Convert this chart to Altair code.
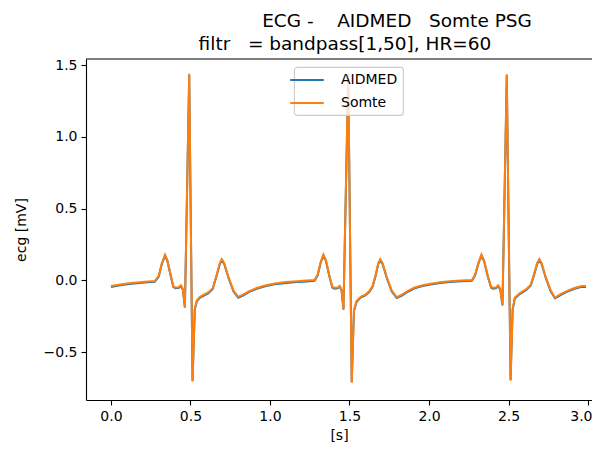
import altair as alt
import pandas as pd

# ---- data ----
time_s = [
    0.000, 0.040, 0.080, 0.130, 0.180, 0.230, 0.275,
    0.300, 0.320, 0.340, 0.355, 0.375, 0.392, 0.405, 0.425, 0.440, 0.452, 0.465, 0.492, 0.513, 0.527, 0.540, 0.560, 0.585, 0.612, 0.640,
    0.665, 0.685, 0.697, 0.712, 0.740, 0.770, 0.800, 0.830, 0.870, 0.920, 0.970, 1.030, 1.100, 1.170, 1.230, 1.280,
    1.300, 1.318, 1.336, 1.352, 1.372, 1.392, 1.405, 1.425, 1.438, 1.450, 1.462, 1.492, 1.514, 1.528, 1.544, 1.570, 1.600, 1.625, 1.645,
    1.665, 1.680, 1.693, 1.708, 1.735, 1.765, 1.797, 1.830, 1.870, 1.910, 1.960, 2.010, 2.070, 2.130, 2.200, 2.270,
    2.290, 2.310, 2.330, 2.346, 2.368, 2.390, 2.403, 2.420, 2.435, 2.448, 2.462, 2.489, 2.513, 2.526, 2.540, 2.570, 2.612, 2.640,
    2.660, 2.680, 2.694, 2.708, 2.735, 2.765, 2.792, 2.830, 2.866, 2.910, 2.960, 2.987,
]

somte_mv = [
    -0.040, -0.032, -0.025, -0.018, -0.013, -0.008, -0.005,
    0.030, 0.120, 0.178, 0.140, 0.040, -0.040, -0.050, -0.048, -0.035, -0.060, -0.185, 1.440, -0.705, -0.200, -0.140, -0.115, -0.100, -0.085, -0.055,
    0.040, 0.120, 0.148, 0.120, 0.020, -0.070, -0.115, -0.100, -0.075, -0.052, -0.036, -0.022, -0.012, -0.006, -0.002, 0.002,
    0.040, 0.125, 0.180, 0.140, 0.040, -0.045, -0.052, -0.050, -0.038, -0.065, -0.200, 1.440, -0.713, -0.210, -0.145, -0.115, -0.100, -0.075, -0.040,
    0.040, 0.115, 0.148, 0.120, 0.020, -0.070, -0.118, -0.100, -0.072, -0.050, -0.034, -0.024, -0.013, -0.006, -0.001, 0.002,
    0.040, 0.120, 0.180, 0.140, 0.040, -0.045, -0.052, -0.050, -0.035, -0.060, -0.170, 1.436, -0.700, -0.200, -0.120, -0.090, -0.062, -0.030,
    0.040, 0.120, 0.148, 0.120, 0.020, -0.070, -0.120, -0.095, -0.075, -0.055, -0.040, -0.040,
]

aidmed_mv = [
    -0.046, -0.038, -0.031, -0.024, -0.019, -0.014, -0.011,
    0.024, 0.114, 0.172, 0.134, 0.034, -0.046, -0.056, -0.054, -0.041, -0.066, -0.190, 1.430, -0.700, -0.206, -0.146, -0.121, -0.106, -0.091, -0.061,
    0.034, 0.114, 0.142, 0.114, 0.014, -0.076, -0.121, -0.106, -0.081, -0.058, -0.042, -0.028, -0.018, -0.012, -0.008, -0.004,
    0.034, 0.119, 0.174, 0.134, 0.034, -0.051, -0.058, -0.056, -0.044, -0.071, -0.205, 1.430, -0.708, -0.216, -0.151, -0.121, -0.106, -0.081, -0.046,
    0.034, 0.109, 0.142, 0.114, 0.014, -0.076, -0.124, -0.106, -0.078, -0.056, -0.040, -0.030, -0.019, -0.012, -0.007, -0.004,
    0.034, 0.114, 0.174, 0.134, 0.034, -0.051, -0.058, -0.056, -0.041, -0.066, -0.175, 1.426, -0.695, -0.206, -0.126, -0.096, -0.068, -0.036,
    0.034, 0.114, 0.142, 0.114, 0.014, -0.076, -0.126, -0.101, -0.081, -0.061, -0.046, -0.046,
]

series_names = ["AIDMED", "Somte"]
series_colors = ["#1f77b4", "#ff7f0e"]
x_ticks = [0.0, 0.5, 1.0, 1.5, 2.0, 2.5, 3.0]
y_ticks = [-0.5, 0.0, 0.5, 1.0, 1.5]
title_lines = ["ECG -    AIDMED   Somte PSG", "filtr   = bandpass[1,50], HR=60"]
x_label = "[s]"
y_label = "ecg [mV]"

# ---- layout ----
W, H = 506, 341
FONT = "DejaVu Sans"

df_a = pd.DataFrame({"t": time_s, "v": aidmed_mv, "series": series_names[0]})
df_s = pd.DataFrame({"t": time_s, "v": somte_mv, "series": series_names[1]})

x_enc = alt.X(
    "t:Q",
    scale=alt.Scale(domain=[-0.157, 3.025], nice=False, zero=False),
    axis=alt.Axis(
        values=x_ticks, format=".1f", title=x_label, titlePadding=5,
        labelFlush=6, labelFlushOffset=4,
    ),
)
y_enc = alt.Y(
    "v:Q",
    scale=alt.Scale(domain=[-0.834, 1.542], nice=False, zero=False),
    axis=alt.Axis(values=y_ticks, format=".1f", title=y_label, titlePadding=15),
)
color_enc = alt.Color(
    "series:N",
    scale=alt.Scale(domain=series_names, range=series_colors),
    legend=alt.Legend(
        title=None,
        orient="none",
        legendX=208,
        legendY=8,
        symbolType="M-2.4,0H2.4",
        symbolSize=196,
        symbolStrokeWidth=2,
        labelFont=FONT,
        labelFontSize=14,
        labelColor="black",
        fillColor="rgba(255,255,255,0.8)",
        strokeColor="#cccccc",
        cornerRadius=3,
        padding=5,
        rowPadding=8,
        labelOffset=26,
    ),
)

line_a = alt.Chart(df_a).mark_line(strokeWidth=2).encode(x=x_enc, y=y_enc, color=color_enc)
line_s = alt.Chart(df_s).mark_line(strokeWidth=2).encode(x=x_enc, y=y_enc, color=color_enc)

top_spine = alt.Chart(pd.DataFrame({"k": [0]})).mark_rule(color="black", strokeWidth=1.1).encode(
    x=alt.value(0), x2=alt.value(W), y=alt.value(0)
)

nb = "\u00a0"
t1 = alt.Chart(pd.DataFrame({"txt": [title_lines[0].replace(" ", nb)]})).mark_text(
    font=FONT, fontSize=18.5, align="center", baseline="alphabetic", color="black"
).encode(text="txt:N", x=alt.value(311), y=alt.value(-32))
t2 = alt.Chart(pd.DataFrame({"txt": [title_lines[1].replace(" ", nb)]})).mark_text(
    font=FONT, fontSize=18.5, align="center", baseline="alphabetic", color="black"
).encode(text="txt:N", x=alt.value(259), y=alt.value(-9))

chart = (
    alt.layer(line_a, line_s, top_spine, t1, t2)
    .properties(
        width=W,
        height=H,
        autosize=alt.AutoSizeParams(type="none"),
        padding={"left": 78, "top": 51, "right": 0, "bottom": 44},
    )
    .configure_view(stroke=None)
    .configure_legend(strokeWidth=1.1)
    .configure_axis(
        grid=False,
        domainColor="black",
        domainWidth=1.1,
        tickColor="black",
        tickWidth=1.1,
        tickSize=5,
        labelFont=FONT,
        labelFontSize=14,
        labelColor="black",
        labelPadding=4,
        titleFont=FONT,
        titleFontSize=14,
        titleFontWeight="normal",
        titleColor="black",
    )
)

chart.save("out.html", embed_options={"renderer": "svg", "actions": False})
